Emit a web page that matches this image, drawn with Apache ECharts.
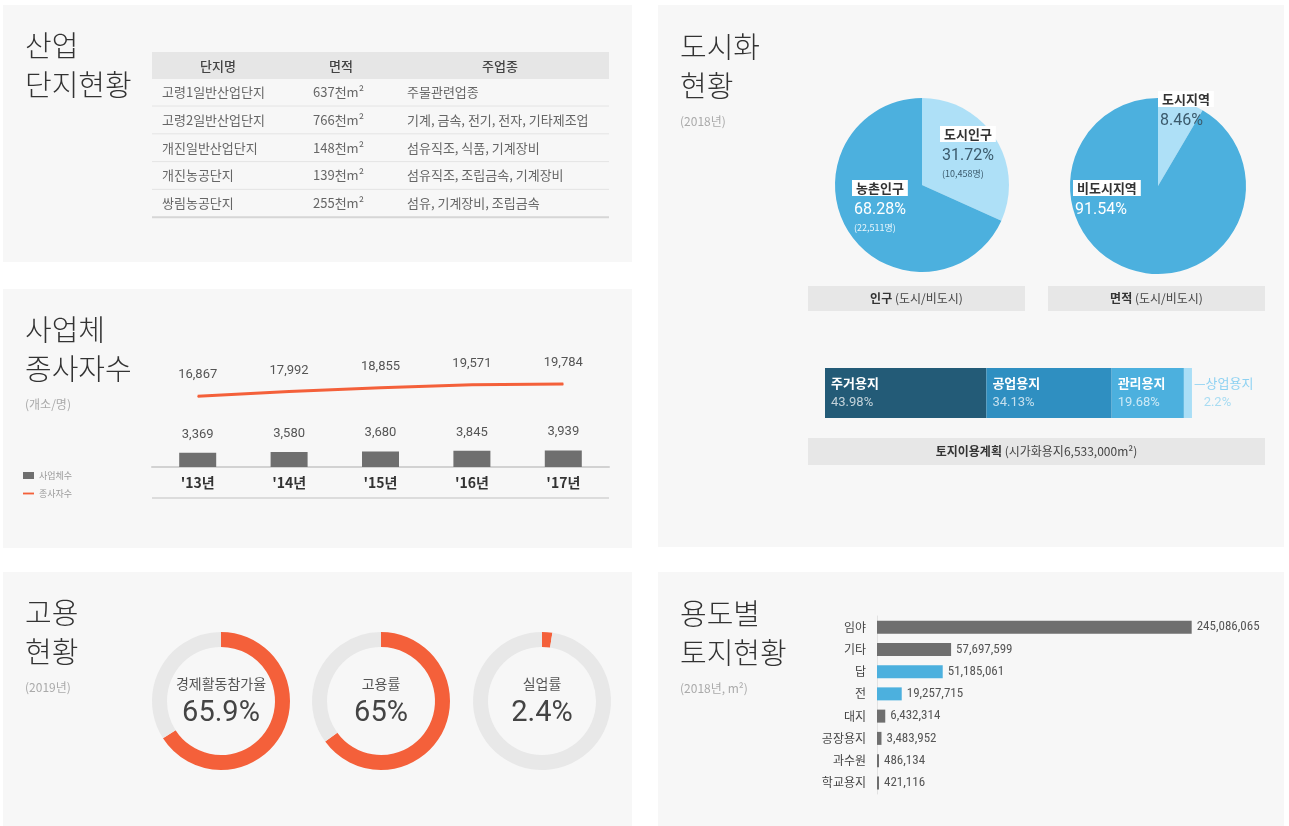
<!DOCTYPE html>
<html>
<head>
<meta charset="utf-8">
<script src="https://cdn.jsdelivr.net/npm/echarts@6/dist/echarts.min.js"></script>
<style>
html, body { margin: 0; padding: 0; background: #fff; }
#main { width: 1289px; height: 826px; }
</style>
</head>
<body>
<div id="main"></div>
<script>
// 산업단지현황
var parkHeaders = ['단지명', '면적', '주업종'];
var parkNames = ['고령1일반산업단지', '고령2일반산업단지', '개진일반산업단지', '개진농공단지', '쌍림농공단지'];
var parkAreas = [637, 766, 148, 139, 255]; // 천m²
var parkIndustries = ['주물관련업종', '기계, 금속, 전기, 전자, 기타제조업', '섬유직조, 식품, 기계장비', '섬유직조, 조립금속, 기계장비', '섬유, 기계장비, 조립금속'];

// 사업체 종사자수
var years = ["'13년", "'14년", "'15년", "'16년", "'17년"];
var businessCounts = [3369, 3580, 3680, 3845, 3939];
var workerCounts = [16867, 17992, 18855, 19571, 19784];

// 고용현황 (2019)
var employNames = ['경제활동참가율', '고용률', '실업률'];
var employRates = [65.9, 65, 2.4];

// 도시화현황 (2018)
var popNames = ['도시인구', '농촌인구'];
var popShare = [31.72, 68.28];
var popCounts = ['10,458명', '22,511명'];
var areaNames = ['도시지역', '비도시지역'];
var areaShare = [8.46, 91.54];

// 토지이용계획
var planNames = ['주거용지', '공업용지', '관리용지', '상업용지'];
var planShare = [43.98, 34.13, 19.68, 2.2];

// 용도별 토지현황 (2018, m²)
var landTypes = ['임야', '기타', '답', '전', '대지', '공장용지', '과수원', '학교용지'];
var landAreas = [245086065, 57697599, 51185061, 19257715, 6432314, 3483952, 486134, 421116];

var KR = '"Noto Sans CJK KR", "Noto Sans", sans-serif';
var NUM = 'Roboto, "Noto Sans CJK KR", sans-serif';
var NARROW = '"Liberation Sans Narrow", "Roboto Condensed", Roboto, sans-serif';
var ORANGE = '#f4603a';
var GRAY_BAR = '#6f6f6f';
var BLUE = '#4cb0de';
var LIGHT_BLUE = '#aee0f7';

var chart = echarts.init(document.getElementById('main'));

var g = [];
// 패널 배경
[[3, 5, 629, 257], [3, 289, 629, 259], [3, 572, 629, 254], [658, 5, 626, 542], [658, 572, 626, 254]].forEach(function (r) {
	g.push({ type: 'rect', shape: { x: r[0], y: r[1], width: r[2], height: r[3] }, style: { fill: '#f7f7f7' }, z: -10 });
});

function addTitle(x, y, lines, sub) {
	lines.forEach(function (t, i) {
		g.push({ type: 'text', x: x, y: y + i * 39, style: { text: t, font: '300 29px ' + KR, fill: '#333', verticalAlign: 'middle' } });
	});
	if (sub) {
		g.push({ type: 'text', x: x, y: y + 74, style: { text: sub, font: '12px ' + KR, fill: '#aaa', verticalAlign: 'middle' } });
	}
}
addTitle(25, 46, ['산업', '단지현황']);
addTitle(25, 330, ['사업체', '종사자수'], '(개소/명)');
addTitle(25, 613, ['고용', '현황'], '(2019년)');
addTitle(680, 47, ['도시화', '현황'], '(2018년)');
addTitle(680, 614, ['용도별', '토지현황'], '(2018년, m²)');

// 산업단지 표
g.push({ type: 'rect', shape: { x: 152, y: 52, width: 457, height: 27 }, style: { fill: '#e6e6e6' } });
var colCenters = [218, 341, 500];
parkHeaders.forEach(function (h, i) {
	g.push({ type: 'text', x: colCenters[i], y: 66, style: { text: h, font: '500 13px ' + KR, fill: '#444', align: 'center', verticalAlign: 'middle' } });
});
parkNames.forEach(function (name, i) {
	var y = 92 + i * 27.8;
	g.push({ type: 'text', x: 162, y: y, style: { text: name, font: '13px ' + KR, fill: '#666', verticalAlign: 'middle' } });
	g.push({ type: 'text', x: 313, y: y, style: { text: parkAreas[i] + '천m²', font: '13px ' + KR, fill: '#666', verticalAlign: 'middle' } });
	g.push({ type: 'text', x: 407, y: y, style: { text: parkIndustries[i], font: '13px ' + KR, fill: '#666', verticalAlign: 'middle' } });
	var last = i === parkNames.length - 1;
	g.push({ type: 'line', shape: { x1: 152, y1: y + 14, x2: 609, y2: y + 14 }, style: { stroke: last ? '#d6d6d6' : '#e4e4e4', lineWidth: last ? 2 : 1 } });
});

// 사업체 차트 아래 선
g.push({ type: 'line', shape: { x1: 152, y1: 498, x2: 609, y2: 498 }, style: { stroke: '#dcdcdc', lineWidth: 2 } });

// 도시화 캡션
function caption(x, y, w, h, text) {
	g.push({ type: 'rect', shape: { x: x, y: y, width: w, height: h }, style: { fill: '#e7e7e7' } });
	g.push({ type: 'text', x: x + w / 2, y: y + h / 2, style: {
		text: text, font: '12px ' + KR, fill: '#444', align: 'center', verticalAlign: 'middle',
		rich: { b: { fontFamily: KR, fontSize: 12, fontWeight: 'bold', fill: '#333' } }
	} });
}
caption(808, 286, 217, 25, '{b|인구} (도시/비도시)');
caption(1048, 286, 217, 25, '{b|면적} (도시/비도시)');
caption(808, 438, 457, 27, '{b|토지이용계획} (시가화용지6,533,000m²)');

// 파이 라벨 위치
var popLabelPos = [[940, 124], [852, 178]];
var areaLabelPos = [[1158, 89], [1073, 178]];

function pieRich() {
	return {
		box: { backgroundColor: '#fff', color: '#333', fontFamily: KR, fontSize: 13, fontWeight: 'bold', padding: [2, 4, 1, 4], lineHeight: 20 },
		pd: { color: '#3b5a6c', fontFamily: NUM, fontSize: 16, lineHeight: 24, padding: [0, 0, 0, 2] },
		pw: { color: '#fff', fontFamily: NUM, fontSize: 16, lineHeight: 24, padding: [0, 0, 0, 2] },
		sd: { color: '#3b5a6c', fontFamily: KR, fontSize: 9, lineHeight: 12, padding: [0, 0, 0, 2] },
		sw: { color: '#eaf6fc', fontFamily: KR, fontSize: 9, lineHeight: 12, padding: [0, 0, 0, 2] }
	};
}

var series = [];

// 사업체수 / 종사자수
series.push({
	name: '사업체수', type: 'bar', xAxisIndex: 0, yAxisIndex: 0, barWidth: 37,
	data: businessCounts, itemStyle: { color: GRAY_BAR },
	label: { show: true, position: 'top', distance: 12, color: '#555', fontFamily: NUM, fontSize: 13,
		formatter: function (p) { return p.value.toLocaleString('en-US'); } },
	silent: true
});
series.push({
	name: '종사자수', type: 'line', xAxisIndex: 0, yAxisIndex: 0, data: workerCounts,
	symbol: 'circle', symbolSize: 1, showSymbol: true,
	lineStyle: { color: ORANGE, width: 3 }, itemStyle: { color: ORANGE },
	label: { show: true, position: 'top', distance: 14, color: '#555', fontFamily: NUM, fontSize: 13,
		formatter: function (p) { return p.value.toLocaleString('en-US'); } },
	silent: true, z: 3
});

// 고용현황 도넛
var donutCenters = [[221, 701], [381, 701], [542, 701]];
employNames.forEach(function (name, i) {
	series.push({
		type: 'pie', center: donutCenters[i], radius: [54, 69], startAngle: 90, clockwise: true, silent: true,
		labelLine: { show: false },
		label: { show: true, position: 'center',
			formatter: '{n|' + name + '}\n{v|' + employRates[i] + '%}',
			rich: {
				n: { fontFamily: KR, fontSize: 14, color: '#555', lineHeight: 26 },
				v: { fontFamily: NUM, fontSize: 29, color: '#444', lineHeight: 34 }
			} },
		data: [
			{ value: employRates[i], name: name, itemStyle: { color: ORANGE } },
			{ value: 100 - employRates[i], name: '', itemStyle: { color: '#e8e8e8' }, label: { show: false } }
		]
	});
});

// 도시화 파이
function cityPie(center, r, names, share, extra, pos) {
	return {
		type: 'pie', center: center, radius: r, startAngle: 90, clockwise: true, silent: true,
		labelLine: { show: false },
		label: { show: true, position: 'inside', align: 'left', rich: pieRich(),
			formatter: function (p) {
				var dark = p.dataIndex === 0;
				var s = '{box|' + p.name + '}\n{' + (dark ? 'pd' : 'pw') + '|' + p.value.toFixed(2) + '%}';
				if (extra) s += '\n{' + (dark ? 'sd' : 'sw') + '|(' + extra[p.dataIndex] + ')}';
				return s;
			} },
		labelLayout: function (p) {
			var q = pos[p.dataIndex];
			return { x: q[0], y: q[1], align: 'left', verticalAlign: 'top' };
		},
		data: names.map(function (n, i) {
			return { name: n, value: share[i], itemStyle: { color: i === 0 ? LIGHT_BLUE : BLUE } };
		})
	};
}
series.push(cityPie([922, 185], 87, popNames, popShare, popCounts, popLabelPos));
series.push(cityPie([1158, 186], 88, areaNames, areaShare, null, areaLabelPos));

// 토지이용계획 누적 막대
var planColors = ['#235b77', '#2f8fc1', '#4cb0de', '#a9def6'];
planNames.forEach(function (name, i) {
	var outside = i === planNames.length - 1;
	series.push({
		name: name, type: 'bar', stack: 'plan', xAxisIndex: 1, yAxisIndex: 1, barWidth: 50, silent: true,
		data: [planShare[i]], itemStyle: { color: planColors[i] },
		label: { show: true, position: outside ? 'right' : 'insideLeft', distance: outside ? 2 : 6,
			formatter: outside ? '{n|—' + name + '}\n{p|   ' + planShare[i] + '%}' : '{n|' + name + '}\n{p|' + planShare[i] + '%}',
			rich: outside ? {
				n: { fontFamily: KR, fontSize: 13, color: '#8fd2f2', lineHeight: 19 },
				p: { fontFamily: NUM, fontSize: 13, color: '#a9dcf2', lineHeight: 19 }
			} : {
				n: { fontFamily: KR, fontSize: 13, fontWeight: 'bold', color: '#fff', lineHeight: 19 },
				p: { fontFamily: NUM, fontSize: 13, color: 'rgba(255,255,255,0.72)', lineHeight: 19 }
			} }
	});
});

// 용도별 토지현황 막대
var blueLand = ['답', '전'];
series.push({
	type: 'bar', xAxisIndex: 2, yAxisIndex: 2, barWidth: 13, barMinHeight: 2, silent: true,
	data: landAreas.map(function (v, i) {
		return { value: v, itemStyle: { color: blueLand.indexOf(landTypes[i]) >= 0 ? BLUE : GRAY_BAR } };
	}),
	label: { show: true, position: 'right', distance: 5, color: '#555', fontFamily: NARROW, fontSize: 13,
		formatter: function (p) { return p.value.toLocaleString('en-US'); } }
});

var option = {
	backgroundColor: '#fff',
	animation: false,
	textStyle: { fontFamily: KR },
	graphic: g,
	legend: {
		data: [
			{ name: '사업체수', icon: 'rect' },
			{ name: '종사자수', icon: 'path://M0,0 L12,0 L12,2 L0,2 Z' }
		],
		orient: 'vertical', left: 18, top: 466,
		itemWidth: 11, itemHeight: 7, itemGap: 9, selectedMode: false,
		textStyle: { fontSize: 9, color: '#999', fontFamily: KR }
	},
	grid: [
		{ left: 152, width: 457, top: 341, height: 126 },
		{ left: 825, width: 367, top: 368, height: 50 },
		{ left: 877, width: 321, top: 616, height: 178 }
	],
	xAxis: [
		{ gridIndex: 0, type: 'category', data: years,
			axisLine: { lineStyle: { color: '#d2d2d2', width: 2 } }, axisTick: { show: false },
			axisLabel: { color: '#333', fontSize: 14, fontWeight: 'bold', margin: 9, fontFamily: KR } },
		{ gridIndex: 1, type: 'value', min: 0, max: 100, show: false },
		{ gridIndex: 2, type: 'value', min: 0, max: 250000000, show: false }
	],
	yAxis: [
		{ gridIndex: 0, type: 'value', min: 0, max: 30000, show: false },
		{ gridIndex: 1, type: 'category', data: ['토지이용계획'], show: false },
		{ gridIndex: 2, type: 'category', data: landTypes, inverse: true,
			axisLine: { lineStyle: { color: '#e2e2e2', width: 1 } }, axisTick: { show: false },
			axisLabel: { color: '#444', fontSize: 12, margin: 11, fontFamily: KR } }
	],
	series: series
};
chart.setOption(option);
</script>
</body>
</html>
